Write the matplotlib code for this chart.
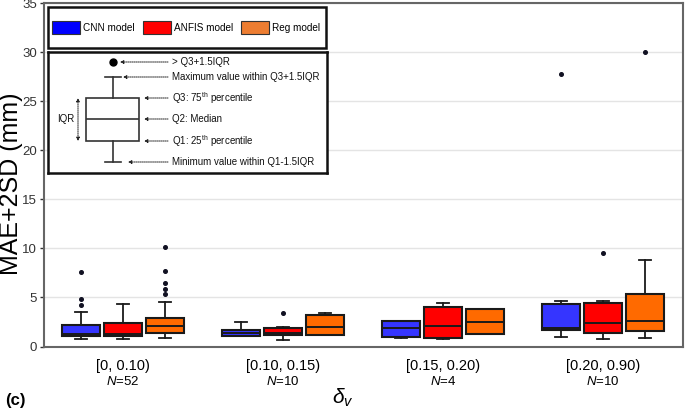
import matplotlib
matplotlib.use('Agg')
import matplotlib.pyplot as plt
from matplotlib.patches import Patch, Rectangle

plt.rcParams['font.family'] = ['Liberation Sans', 'DejaVu Sans']
plt.rcParams['mathtext.fontset'] = 'custom'
plt.rcParams['mathtext.rm'] = 'Liberation Sans'
plt.rcParams['mathtext.it'] = 'Liberation Sans:italic'

# datos
grupos = ['[0, 0.10)', '[0.10, 0.15)', '[0.15, 0.20)', '[0.20, 0.90)']
n_obs = [52, 10, 4, 10]
modelos = ['CNN model', 'ANFIS model', 'Reg model']

cnn_whislo = [0.80, 1.11, 0.88, 0.94]
cnn_q1 = [1.04, 1.11, 0.98, 1.65]
cnn_med = [1.25, 1.41, 1.92, 1.92]
cnn_q3 = [2.17, 1.72, 2.63, 4.32]
cnn_whishi = [3.56, 2.52, 2.63, 4.63]
cnn_fliers = [[4.18, 4.8, 7.6], [], [], [27.8]]

anfis_whislo = [0.74, 0.63, 0.74, 0.74]
anfis_q1 = [1.04, 1.15, 0.84, 1.38]
anfis_med = [1.31, 1.35, 2.09, 2.36]
anfis_q3 = [2.40, 1.92, 4.05, 4.46]
anfis_whishi = [4.32, 2.03, 4.42, 4.63]
anfis_fliers = [[], [3.43], [], [9.53]]

reg_whislo = [0.87, 1.15, 1.32, 0.87]
reg_q1 = [1.35, 1.15, 1.32, 1.58]
reg_med = [2.10, 2.00, 2.53, 2.63]
reg_q3 = [2.95, 3.22, 3.85, 5.37]
reg_whishi = [4.56, 3.43, 3.85, 8.78]
reg_fliers = [[5.4, 5.81, 6.52, 7.67, 10.14], [], [], [30.0]]

colores_caja = ['#3535FF', '#FF0000', '#FF6A00']
colores_leyenda = ['#0000FF', '#FF0000', '#ED7D31']

datos = [
    (cnn_whislo, cnn_q1, cnn_med, cnn_q3, cnn_whishi, cnn_fliers),
    (anfis_whislo, anfis_q1, anfis_med, anfis_q3, anfis_whishi, anfis_fliers),
    (reg_whislo, reg_q1, reg_med, reg_q3, reg_whishi, reg_fliers),
]

fig = plt.figure(figsize=(6.85, 4.13), dpi=100)
ax = fig.add_axes([44 / 685, (413 - 346.5) / 413, (683 - 44) / 685, (346.5 - 3) / 413])

desplaz = [-0.2625, 0.0, 0.2625]
ancho = 0.2375
for k, (wlo, q1, med, q3, whi, fl) in enumerate(datos):
    stats = []
    for i in range(len(grupos)):
        stats.append({'whislo': wlo[i], 'q1': q1[i], 'med': med[i], 'q3': q3[i],
                      'whishi': whi[i], 'fliers': fl[i]})
    pos = [i + desplaz[k] for i in range(len(grupos))]
    ax.bxp(stats, positions=pos, widths=ancho, capwidths=0.07, patch_artist=True,
           showfliers=True, manage_ticks=False,
           boxprops=dict(facecolor=colores_caja[k], edgecolor='#1a1a1a', linewidth=1.5),
           medianprops=dict(color='#1a1a1a', linewidth=1.4),
           whiskerprops=dict(color='#1a1a1a', linewidth=1.3),
           capprops=dict(color='#1a1a1a', linewidth=1.3),
           flierprops=dict(marker='o', markerfacecolor='#111122', markeredgecolor='#111122',
                           markersize=2.6))

ax.set_xlim(-0.494, 3.5)
ax.set_ylim(0, 35)
ax.set_yticks(range(0, 36, 5))
ax.yaxis.grid(True, color='#e4e4e4', linewidth=1)
ax.set_axisbelow(True)
ax.tick_params(axis='y', labelsize=9.5, colors='#333333', length=3, width=1, pad=2)
ax.set_xticks(range(len(grupos)), labels=grupos)
ax.tick_params(axis='x', labelsize=10.5, length=0, pad=9)
for s in ax.spines.values():
    s.set_color('#666666')
    s.set_linewidth(1.5)

for i, n in enumerate(n_obs):
    ax.annotate('$N$=%d' % n, xy=(i, 0), xycoords=('data', 'axes fraction'),
                xytext=(0, -25), textcoords='offset points', ha='center', va='center',
                fontsize=9.5)

fig.text(11 / 685, 1 - 184 / 413, 'MAE+2SD (mm)', fontsize=18, rotation=90,
         ha='center', va='center')
fig.text(343 / 685, 1 - 398 / 413, r'$\delta_v$', fontsize=15, ha='center', va='center')
fig.text(5 / 685, 1 - 400 / 413, '(c)', fontsize=12, fontweight='bold', ha='left', va='center')

# leyenda (marco dibujado aparte)
marco = Rectangle((48 / 685, 1 - 48 / 413), 278 / 685, 41 / 413, transform=fig.transFigure,
                  facecolor='white', edgecolor='#111111', linewidth=1.8, zorder=4)
fig.patches.append(marco)
manijas = [Patch(facecolor=c, edgecolor='#333333', linewidth=0.8) for c in colores_leyenda]
leg = fig.legend(manijas, modelos, loc='center left', ncol=3,
                 bbox_to_anchor=(52 / 685, 1 - 27.5 / 413), bbox_transform=fig.transFigure,
                 borderaxespad=0, borderpad=0, frameon=False,
                 fontsize=7.2, handlelength=2.8, handleheight=1.6, handletextpad=0.3,
                 columnspacing=0.8)
leg.set_zorder(5)

# recuadro explicativo del diagrama de caja
ins = fig.add_axes([48 / 685, (413 - 173) / 413, 279 / 685, 121 / 413])
ins.set_xlim(0, 279)
ins.set_ylim(121, 0)
ins.set_xticks([])
ins.set_yticks([])
for s in ins.spines.values():
    s.set_color('#111111')
    s.set_linewidth(1.8)

ejemplo = [{'whislo': 110, 'q1': 89, 'med': 67, 'q3': 46, 'whishi': 25, 'fliers': [10]}]
ins.bxp(ejemplo, positions=[64.5], widths=53, capwidths=16, patch_artist=True,
        manage_ticks=False,
        boxprops=dict(facecolor='white', edgecolor='#333333', linewidth=1.2),
        medianprops=dict(color='#333333', linewidth=1.2),
        whiskerprops=dict(color='#333333', linewidth=1.2),
        capprops=dict(color='#333333', linewidth=1.2),
        flierprops=dict(marker='o', markerfacecolor='black', markeredgecolor='black', markersize=5))

etiquetas = ['> Q3+1.5IQR', 'Maximum value within Q3+1.5IQR', 'Q3: 75$^{\\rm th}$ percentile',
             'Q2: Median', 'Q1: 25$^{\\rm th}$ percentile', 'Minimum value within Q1-1.5IQR']
alturas = [10, 25, 46, 67, 89, 110]
puntas = [72, 75, 96, 96, 96, 80]
for txt, yy, xp in zip(etiquetas, alturas, puntas):
    ins.annotate('', xy=(xp, yy), xytext=(120, yy),
                 arrowprops=dict(arrowstyle='-|>', linestyle=(0, (1, 1)), lw=0.7,
                                 color='#222222', mutation_scale=5, shrinkA=0, shrinkB=0))
    ins.text(124, yy, txt, fontsize=7, va='center', ha='left', color='#111111')

ins.annotate('', xy=(30, 46), xytext=(30, 89),
             arrowprops=dict(arrowstyle='<|-|>', linestyle=(0, (1, 1)), lw=0.7,
                             color='#222222', mutation_scale=5, shrinkA=0, shrinkB=0))
ins.text(18, 67, 'IQR', fontsize=7, va='center', ha='center', color='#111111')

fig.savefig('out.png', dpi=100)
